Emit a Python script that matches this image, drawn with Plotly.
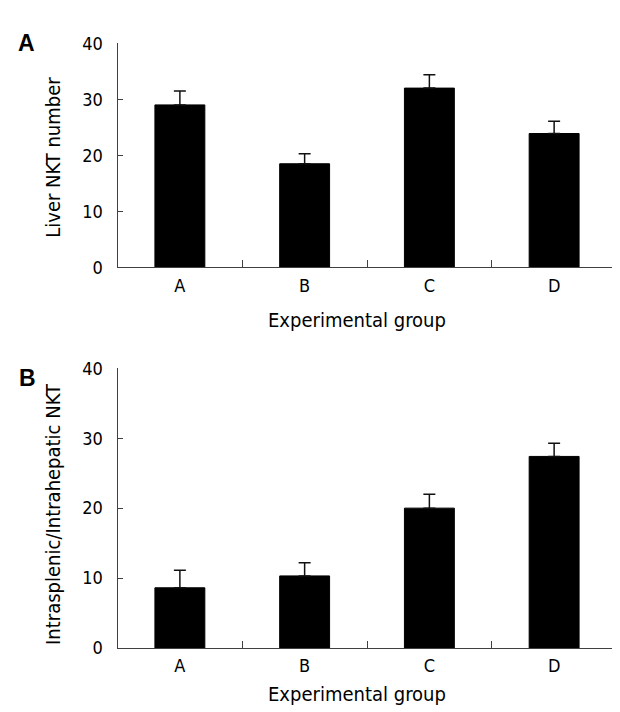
import plotly.graph_objects as go

groups = ["A", "B", "C", "D"]
liver_nkt = [29.0, 18.5, 32.0, 23.9]
liver_nkt_err = [2.5, 1.8, 2.4, 2.2]
ratio_nkt = [8.6, 10.3, 20.0, 27.4]
ratio_nkt_err = [2.5, 1.9, 2.0, 1.9]
y_ticks = [0, 10, 20, 30, 40]

W, H = 620, 712
FONT = "DejaVu Sans Condensed, DejaVu Sans, sans-serif"
AXC = "#404040"

def px_x(p):
    return p / W

def px_y(p):
    return 1 - p / H

fig = go.Figure()

fig.add_trace(go.Bar(
    x=groups, y=liver_nkt, width=0.4, xaxis="x", yaxis="y",
    marker=dict(color="black", line=dict(color="black", width=1)),
    error_y=dict(type="data", symmetric=False, array=liver_nkt_err,
                 arrayminus=[0] * len(groups), color="#111", thickness=1.5, width=6),
    showlegend=False,
))
fig.add_trace(go.Bar(
    x=groups, y=ratio_nkt, width=0.4, xaxis="x2", yaxis="y2",
    marker=dict(color="black", line=dict(color="black", width=1)),
    error_y=dict(type="data", symmetric=False, array=ratio_nkt_err,
                 arrayminus=[0] * len(groups), color="#111", thickness=1.5, width=6),
    showlegend=False,
))

xdom = [px_x(109.5), px_x(608.5)]
xcommon = dict(
    type="category", range=[-0.5, 3.5], showline=True, linecolor=AXC, linewidth=1,
    ticks="inside", tickson="boundaries", ticklen=7, tickcolor=AXC, tickwidth=1,
    showgrid=False, zeroline=False, tickfont=dict(family=FONT, size=18, color="black"),
    domain=xdom, ticklabelstandoff=2,
)
ycommon = dict(
    range=[0, 40], tickvals=y_ticks, showline=True, linecolor=AXC, linewidth=1,
    ticks="inside", ticklen=5, tickcolor=AXC, tickwidth=1, showgrid=False,
    zeroline=False, tickfont=dict(family=FONT, size=18, color="black"),
    ticklabelstandoff=10,
)

fig.update_layout(
    width=W, height=H, margin=dict(l=0, r=0, t=0, b=0),
    paper_bgcolor="white", plot_bgcolor="white",
    xaxis=dict(**xcommon, anchor="y"),
    yaxis=dict(**ycommon, anchor="x", domain=[px_y(256), px_y(25)]),
    xaxis2=dict(**xcommon, anchor="y2"),
    yaxis2=dict(**ycommon, anchor="x2", domain=[px_y(648), px_y(360)]),
)

ann = [
    dict(text="<b>A</b>", x=px_x(18), y=px_y(25), font=dict(family="Liberation Sans", size=23, color="black")),
    dict(text="<b>B</b>", x=px_x(19), y=px_y(370), font=dict(family="Liberation Sans", size=23, color="black")),
    dict(text="Experimental group", x=px_x(349), y=px_y(310), font=dict(family=FONT, size=20, color="black")),
    dict(text="Experimental group", x=px_x(349), y=px_y(695), font=dict(family=FONT, size=20, color="black")),
    dict(text="Liver NKT number", x=px_x(45), y=px_y(143), textangle=-90, font=dict(family=FONT, size=20, color="black")),
    dict(text="Intrasplenic/Intrahepatic NKT", x=px_x(45), y=px_y(510), textangle=-90, font=dict(family=FONT, size=20, color="black")),
]
for a in ann:
    a.update(xref="paper", yref="paper", xanchor="center", yanchor="middle", showarrow=False)
fig.update_layout(annotations=ann)

fig.write_html("out.html")
